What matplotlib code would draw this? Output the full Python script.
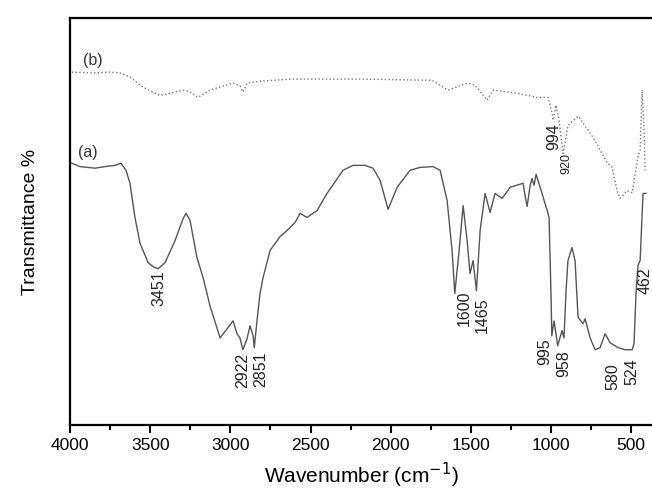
import numpy as np
import matplotlib.pyplot as plt

plt.rcParams['font.family'] = ['Liberation Sans', 'DejaVu Sans']

# spectrum (a): wavenumber (cm-1) and transmittance (arbitrary %)
wn_a = [4000, 3938, 3844, 3782, 3719, 3682, 3651, 3626, 3595, 3563, 3513, 3482,
        3451, 3407, 3345, 3295, 3276, 3251, 3208, 3170, 3127, 3064, 3021, 2983,
        2958, 2940, 2922, 2896, 2877, 2858, 2851, 2827, 2815, 2796, 2752, 2690,
        2646, 2596, 2565, 2522, 2459, 2397, 2297, 2235, 2160, 2110, 2066, 2016,
        1960, 1879, 1817, 1736, 1692, 1648, 1617, 1600, 1573, 1548, 1523, 1505,
        1486, 1465, 1442, 1411, 1380, 1349, 1305, 1255, 1174, 1162, 1149, 1130,
        1118, 1106, 1093, 1056, 1024, 1012, 999, 995, 981, 958, 931, 919, 906,
        894, 869, 850, 831, 800, 787, 756, 725, 694, 663, 631, 581, 538, 494,
        482, 469, 457, 444, 426, 407]
tr_a = [64.5, 63.5, 63.1, 63.5, 63.8, 64.3, 62.6, 59.4, 51.0, 44.6, 39.9, 38.9,
        38.4, 39.9, 45.3, 50.7, 52.0, 50.2, 41.1, 36.2, 29.3, 21.4, 23.6, 25.6,
        22.4, 21.4, 18.5, 21.2, 24.4, 21.9, 19.0, 28.1, 32.3, 36.2, 42.9, 46.3,
        47.8, 49.8, 52.0, 51.0, 52.7, 56.9, 62.6, 63.8, 63.8, 63.1, 60.1, 53.0,
        58.4, 62.6, 63.3, 63.5, 62.6, 55.2, 42.9, 32.3, 42.9, 53.9, 45.3, 37.2,
        40.4, 33.0, 47.8, 56.9, 52.2, 56.9, 55.7, 58.4, 59.4, 56.4, 53.7, 58.9,
        60.6, 58.9, 61.6, 56.9, 52.7, 51.0, 30.5, 21.9, 25.6, 19.5, 23.2, 21.4, 33.0,
        40.4, 43.6, 40.4, 26.4, 24.9, 26.1, 21.4, 18.5, 19.0, 22.4, 20.2, 19.0, 18.5, 18.5,
        20.0, 33.0, 39.2, 40.4, 56.9, 56.9]

# spectrum (b)
wn_b = [3988, 3857, 3750, 3688, 3626, 3545, 3439, 3376, 3295, 3251, 3202, 3127,
        2983, 2940, 2921, 2896, 2815, 2609, 2191, 1742, 1642, 1523, 1474, 1399,
        1361, 1212, 1087, 1018, 993, 987, 968, 950, 925, 894, 831, 738, 650, 619,
        588, 569, 525, 494, 469, 457, 444, 432, 419, 413]
tr_b = [86.7, 86.5, 86.7, 86.5, 85.5, 83.0, 81.0, 81.5, 82.3, 81.8, 80.5, 82.3,
        84.0, 83.3, 81.8, 84.0, 84.5, 85.0, 85.0, 84.7, 82.3, 84.0, 83.5, 79.8,
        82.3, 81.5, 80.5, 80.5, 76.6, 74.9, 78.6, 74.9, 66.7, 73.6, 75.9, 70.7, 64.5, 63.3,
        57.6, 55.7, 57.6, 57.1, 63.1, 66.2, 67.5, 82.3, 72.4, 62.6]

# peak labels: (wavenumber, text, offset in points, fontsize)
peaks_a = [(3451, '3451', (1, -1), 11.5), (2922, '2922', (0, -2), 11.5),
           (2851, '2851', (5, -3), 11.5), (1600, '1600', (7, 2), 11.5),
           (1465, '1465', (4, -5), 11.5), (995, '995', (-5, -2), 11.5),
           (958, '958', (4, -3), 11.5), (580, '580', (-4, -11), 11.5),
           (524, '524', (3, -6), 11.5), (462, '462', (6, 6), 11.5)]
peaks_b = [(994, '994', (1, -8), 11.5), (920, '920', (2, -3), 9)]

fig = plt.figure(figsize=(6.52, 4.95), dpi=100)
ax = fig.add_axes([0.1074, 0.1414, 0.8926, 0.8222])

ax.plot(wn_a, tr_a, color='#555555', lw=1.0)
ax.plot(wn_b, tr_b, color='#777777', lw=1.0, ls=':')

ax.set_xlim(4000, 370)
ax.set_ylim(0, 100)

for wn, txt, off, fs in peaks_a:
    y = np.interp(wn, wn_a[::-1], tr_a[::-1])
    ax.annotate(txt, (wn, y), xytext=off, textcoords='offset points',
                rotation=90, ha='center', va='top', fontsize=fs, color='#222222')
for wn, txt, off, fs in peaks_b:
    y = np.interp(wn, wn_b[::-1], tr_b[::-1])
    ax.annotate(txt, (wn, y), xytext=off, textcoords='offset points',
                rotation=90, ha='center', va='top', fontsize=fs, color='#222222')

ax.annotate('(a)', (wn_a[0], tr_a[0]), xytext=(6, 2), textcoords='offset points',
            ha='left', va='bottom', fontsize=11.5, color='#333333')
ax.annotate('(b)', (wn_b[0], tr_b[0]), xytext=(8, 3), textcoords='offset points',
            ha='left', va='bottom', fontsize=11.5, color='#333333')

ax.set_xticks([4000, 3500, 3000, 2500, 2000, 1500, 1000, 500])
ax.set_xticks(np.arange(3750, 400, -500), minor=True)
ax.set_yticks([])
ax.tick_params(axis='x', which='major', direction='out', length=6, width=1.5,
               labelsize=12.5, pad=3)
ax.tick_params(axis='x', which='minor', direction='out', length=3.5, width=1.5)

for side in ['left', 'bottom', 'top']:
    ax.spines[side].set_linewidth(1.6)
ax.spines['right'].set_visible(False)

ax.set_xlabel('Wavenumber (cm$^{-1}$)', fontsize=15, labelpad=6)
ax.set_ylabel('Transmittance %', fontsize=14, labelpad=22)

fig.savefig('out.png', dpi=100)
